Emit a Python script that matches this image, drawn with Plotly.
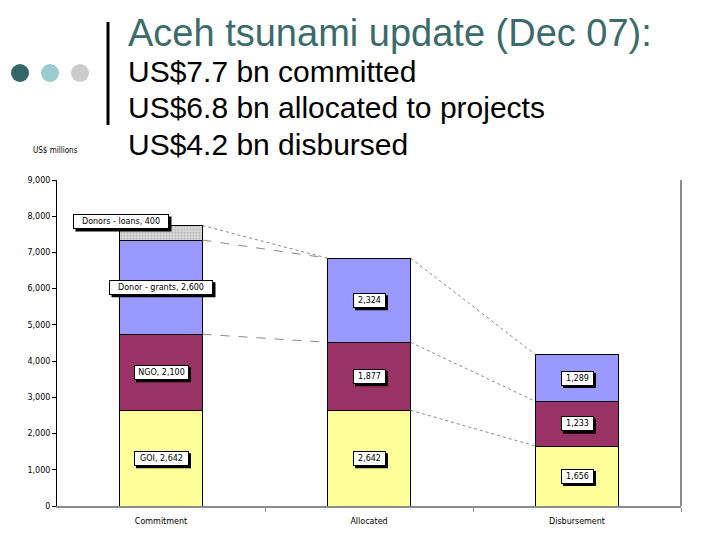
import plotly.graph_objects as go

categories = ["Commitment", "Allocated", "Disbursement"]
goi = [2642, 2642, 1656]
ngo = [2100, 1877, 1233]
donor_grants = [2600, 2324, 1289]
donor_loans = [400, 0, 0]
series_names = ["GOI", "NGO", "Donor - grants", "Donors - loans"]
y_ticks = [0, 1000, 2000, 3000, 4000, 5000, 6000, 7000, 8000, 9000]
title_text = "Aceh tsunami update (Dec 07):"
sub_lines = ["US$7.7 bn committed", "US$6.8 bn allocated to projects", "US$4.2 bn disbursed"]

# page has an 8px body margin; the figure is sized so it fits the 720x540 window
OFF = 8
W, H = 704, 524
ML, MR, MT, MB = 49, 31, 172, 26
PW, PH = W - ML - MR, H - MT - MB


def px(xp):
    return (xp - OFF - ML) / PW


def py(yp):
    return (H - MB - (yp - OFF)) / PH


xs = list(range(len(categories)))
bar_w = 0.4
colors = ["#FFFF99", "#993366", "#9999FF", "#CCCCCC"]
series = [goi, ngo, donor_grants, donor_loans]

fig = go.Figure()
for name, vals, col in zip(series_names, series, colors):
    marker = dict(color=col, line=dict(color="black", width=1))
    if name == "Donors - loans":
        marker["pattern"] = dict(shape=".", fgcolor="#9A9A9A", bgcolor="#D8D8D8", size=3, solidity=0.3)
    fig.add_trace(go.Bar(x=xs, y=vals, name=name, width=bar_w, marker=marker, showlegend=False))

tops = []
run = [0] * len(categories)
for vals in series:
    run = [r + v for r, v in zip(run, vals)]
    tops.append(list(run))


def conn(i0, level0, level1, dash):
    fig.add_trace(go.Scatter(
        x=[xs[i0] + bar_w / 2, xs[i0 + 1] - bar_w / 2],
        y=[tops[level0][i0], tops[level1][i0 + 1]],
        mode="lines", line=dict(color="#8A8A8A", width=1, dash=dash),
        showlegend=False, hoverinfo="skip"))


conn(0, 3, 2, "dot")
conn(0, 2, 2, "dash")
conn(0, 1, 1, "dash")
conn(1, 2, 2, "dot")
conn(1, 1, 1, "dot")
conn(1, 0, 0, "dot")

annotations = []
shapes = []
label_font = dict(family="DejaVu Sans", size=8, color="black")
BH = 10
PAD = 1.5


def add_label(x, y, text, xanchor="center", xshift=0, yshift=0):
    w = round(len(text) * 4.45 + 6)
    tw = w + 2 * PAD + 2
    th = BH + 2 * PAD + 2
    if xanchor == "center":
        left = -tw / 2 + xshift
    else:
        left = -tw + xshift
    sh = 2.5
    shapes.append(dict(type="rect", xref="x", yref="y", xsizemode="pixel", ysizemode="pixel",
                       xanchor=x, yanchor=y, x0=left + sh, x1=left + tw + sh,
                       y0=yshift - th / 2 - sh, y1=yshift + th / 2 - sh,
                       fillcolor="black", line=dict(width=0), layer="above"))
    annotations.append(dict(x=x, y=y, xref="x", yref="y", text=text, showarrow=False,
                            xanchor=xanchor, yanchor="middle", xshift=xshift, yshift=yshift,
                            width=w, height=BH, align="center",
                            bgcolor="white", bordercolor="black", borderwidth=1, borderpad=PAD,
                            font=label_font))


for i in range(len(categories)):
    base = 0
    for name, vals in zip(series_names, series):
        v = vals[i]
        if v > 0:
            text = f"{name}, {v:,}" if i == 0 else f"{v:,}"
            if name == "Donors - loans":
                add_label(xs[i], base + v, text, xanchor="right", xshift=8, yshift=4)
            else:
                add_label(xs[i], base + v / 2, text)
        base += v

annotations.append(dict(x=px(126), y=py(33), xref="paper", yref="paper", text=title_text,
                        showarrow=False, xanchor="left", yanchor="middle",
                        font=dict(family="Liberation Sans", size=38, color="#3B6B6B")))
for k, line in enumerate(sub_lines):
    annotations.append(dict(x=px(126), y=py(72 + 36 * k), xref="paper", yref="paper", text=line,
                            showarrow=False, xanchor="left", yanchor="middle",
                            font=dict(family="Liberation Sans", size=30, color="black")))
annotations.append(dict(x=px(55), y=py(150), xref="paper", yref="paper", text="US$ millions",
                        showarrow=False, xanchor="center", yanchor="middle",
                        font=dict(family="DejaVu Sans Condensed", size=8, color="black")))

shapes.append(dict(type="line", xref="paper", yref="paper", x0=px(108), x1=px(108), y0=py(22), y1=py(125),
                   line=dict(color="black", width=3)))
for cx, col in zip([20, 50, 80], ["#336666", "#99CCCC", "#CCCCCC"]):
    r = 9
    shapes.append(dict(type="circle", xref="paper", yref="paper", x0=px(cx - r), x1=px(cx + r),
                       y0=py(73 + r), y1=py(73 - r), fillcolor=col, line=dict(width=0)))
shapes.append(dict(type="line", xref="paper", yref="paper", x0=1, x1=1, y0=0, y1=1,
                   line=dict(color="#8C8C8C", width=2)))

fig.update_layout(
    width=W, height=H, margin=dict(l=ML, r=MR, t=MT, b=MB, autoexpand=False),
    paper_bgcolor="white", plot_bgcolor="white", barmode="stack",
    annotations=annotations, shapes=shapes,
    xaxis=dict(range=[-0.5, 2.5], tickvals=xs, ticktext=categories, ticks="",
               showline=True, linecolor="#8C8C8C", linewidth=2, showgrid=False, zeroline=False,
               ticklabelstandoff=6, automargin=False,
               tickfont=dict(family="DejaVu Sans", size=8, color="black"),
               minor=dict(tickvals=[0.5, 1.5, 2.5], ticks="outside", ticklen=4, tickcolor="#8C8C8C")),
    yaxis=dict(range=[0, 9000], tickvals=y_ticks, tickformat=",", ticks="outside", ticklen=4,
               tickcolor="black", showline=True, linecolor="black", linewidth=1, showgrid=False,
               zeroline=False, automargin=False, tickfont=dict(family="DejaVu Sans", size=8, color="black")),
)

fig.write_html("out.html")
